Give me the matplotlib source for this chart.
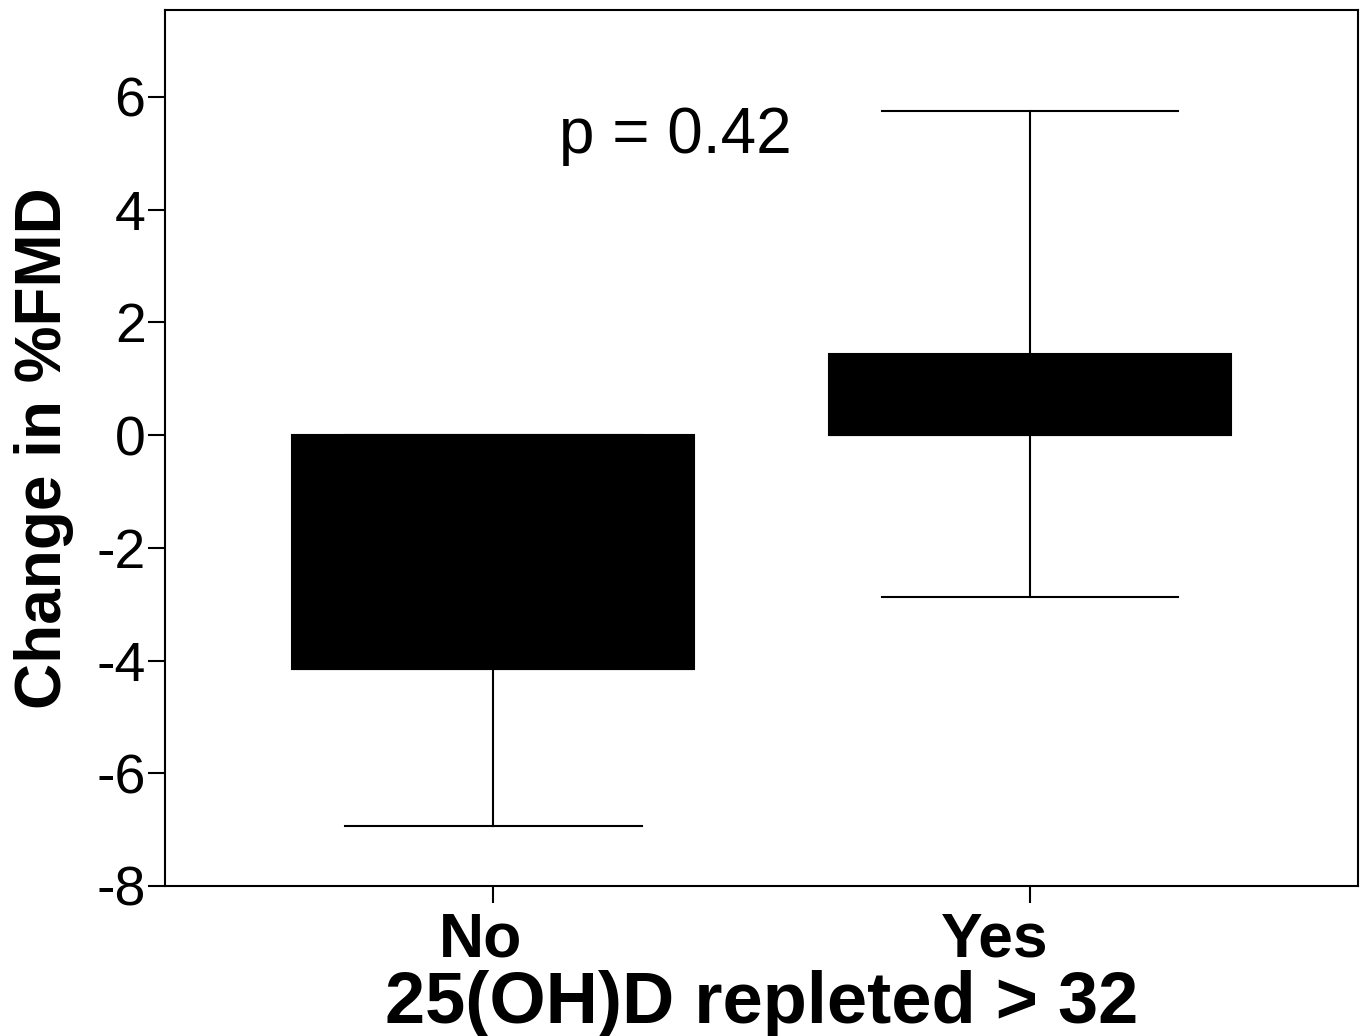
import matplotlib
matplotlib.use("Agg")
import matplotlib.pyplot as plt
import matplotlib.transforms as mtransforms

plt.rcParams['font.family'] = ['Liberation Sans', 'DejaVu Sans']
plt.rcParams['axes.unicode_minus'] = False

# data
groups = ["No", "Yes"]
whisker_low = [-6.94, -2.87]
box_low = [-4.15, 0.0]
box_high = [0.0, 1.44]
whisker_high = [0.0, 5.75]
p_text = "p = 0.42"

fig = plt.figure(figsize=(13.65, 10.36), dpi=100)
ax = fig.add_axes([0.1209, 0.1448, 0.874, 0.8455])

stats = []
for i, g in enumerate(groups):
    stats.append(dict(label=g, whislo=whisker_low[i], q1=box_low[i],
                      med=box_low[i], q3=box_high[i], whishi=whisker_high[i]))

ax.bxp(stats, positions=range(len(groups)), widths=0.75, patch_artist=True,
       showfliers=False,
       boxprops=dict(facecolor='black', edgecolor='black', linewidth=1.5),
       medianprops=dict(color='black', linewidth=1.5),
       whiskerprops=dict(color='black', linewidth=1.5),
       capprops=dict(color='black', linewidth=1.5),
       capwidths=0.553)

ax.text(0.34, 5.0, p_text, ha='center', va='baseline', fontsize=46)

ax.set_xlim(-0.611, 1.611)
ax.set_ylim(-8, 7.54)
ax.set_yticks([-8, -6, -4, -2, 0, 2, 4, 6])
ax.set_xticks(range(len(groups)))
ax.set_xticklabels(groups, fontsize=45, fontweight='bold')
ax.tick_params(axis='y', labelsize=40, length=12, width=1.5, pad=2)
ax.tick_params(axis='x', length=12, width=1.5, pad=6)

# the category labels sit a little left of their ticks in the original
shifts = [-13, -35]
for lab, dx in zip(ax.get_xticklabels(), shifts):
    lab.set_transform(lab.get_transform() +
                      mtransforms.ScaledTranslation(dx / 100, 0, fig.dpi_scale_trans))

for s in ax.spines.values():
    s.set_linewidth(1.5)

ax.set_xlabel("25(OH)D repleted > 32", fontsize=52, fontweight='bold', labelpad=0)
ax.set_ylabel("Change in %FMD", fontsize=46, fontweight='bold', labelpad=16)

plt.savefig("out.png", dpi=100)
